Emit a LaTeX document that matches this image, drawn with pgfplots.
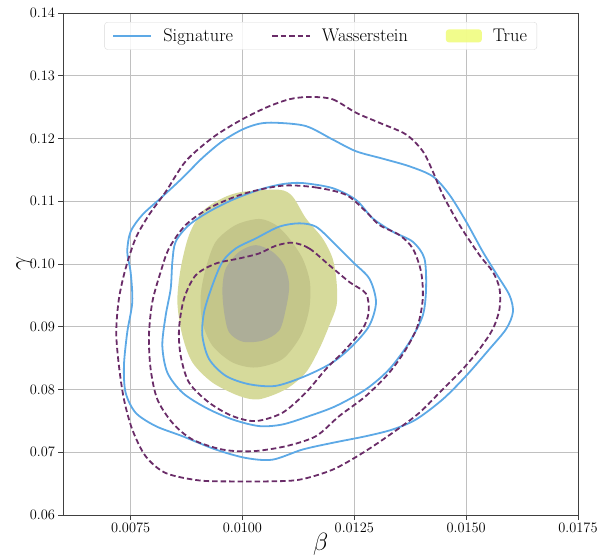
\documentclass[border=0pt]{standalone}
\usepackage{pgfplots}
\pgfplotsset{compat=1.18}
\usetikzlibrary{calc}

\definecolor{sigblue}{RGB}{93,169,230}
\definecolor{wasspurple}{RGB}{106,44,104}
\definecolor{trueA}{RGB}{214,218,155}
\definecolor{trueB}{RGB}{196,198,138}
\definecolor{trueC}{RGB}{173,174,152}
\definecolor{trueleg}{RGB}{240,252,120}
\definecolor{gridgray}{RGB}{192,192,192}

\pgfplotsset{
  linelegend/.style={legend image code/.code={\draw[##1] (0pt,0pt) -- (38pt,0pt);}},
  patchlegend/.style={legend image code/.code={\fill[##1] (0pt,-6.5pt) rectangle (36pt,6.5pt);}},
}

\begin{document}
\begin{tikzpicture}
\begin{axis}[
  scale only axis,
  width=514.5pt, height=502pt,
  xmin=0.006, xmax=0.0175,
  ymin=0.06, ymax=0.14,
  xtick={0.0075,0.01,0.0125,0.015,0.0175},
  ytick={0.06,0.07,0.08,0.09,0.10,0.11,0.12,0.13,0.14},
  scaled x ticks=false, scaled y ticks=false,
  x tick label style={/pgf/number format/.cd, fixed, fixed zerofill, precision=4},
  y tick label style={/pgf/number format/.cd, fixed, fixed zerofill, precision=2},
  tick label style={font=\fontsize{13.5}{16}\selectfont},
  tick pos=left, tick align=outside,
  major tick length=5pt,
  every tick/.style={black!75, line width=0.8pt},
  axis line style={black!75, line width=0.8pt},
  grid=major,
  grid style={gridgray, line width=0.9pt},
  xlabel={$\beta$}, ylabel={$\gamma$},
  label style={font=\fontsize{23}{26}\selectfont},
  xlabel style={yshift=6pt},
  ylabel style={yshift=-9pt},
  legend columns=3,
  legend style={at={(0.5,0.982)}, anchor=north, draw=black!15, rounded corners=3pt,
    fill=white, fill opacity=0.85, text opacity=1,
    font=\fontsize{18.3}{21}\selectfont, inner xsep=8pt, inner ysep=4.5pt,
    /tikz/every odd column/.append style={column sep=9pt},
    /tikz/every even column/.append style={column sep=36pt}},
]
\addlegendimage{sigblue, line width=1.8pt, linelegend}
\addlegendentry{Signature}
\addlegendimage{wasspurple, line width=1.8pt, dash pattern=on 5.5pt off 3pt, linelegend}
\addlegendentry{Wasserstein}
\addlegendimage{fill=trueleg, draw=none, patchlegend}
\addlegendentry{True}

% True density (filled levels)
\addplot[forget plot, smooth cycle, fill=trueA, draw=none] coordinates {
 (0.01,0.1115) (0.010821,0.11183) (0.011119,0.11076) (0.011418,0.10729)
 (0.011791,0.10408) (0.012015,0.10088) (0.012104,0.09714) (0.012104,0.0934)
 (0.01194,0.09019) (0.011716,0.08645) (0.011418,0.08271) (0.01097,0.08004)
 (0.010373,0.07844) (0.009925,0.07897) (0.009328,0.08111) (0.008881,0.08432)
 (0.008657,0.08859) (0.008545,0.09393) (0.008619,0.09927) (0.008806,0.10462)
 (0.009104,0.10835) (0.009552,0.11049)
};
\addplot[forget plot, smooth cycle, fill=trueB, draw=none] coordinates {
 (0.010373,0.10718) (0.010746,0.10622) (0.011045,0.10408) (0.011343,0.10088)
 (0.011507,0.09714) (0.011493,0.09286) (0.011306,0.08859) (0.010896,0.08485)
 (0.010299,0.08351) (0.009776,0.08432) (0.009328,0.08699) (0.009104,0.09073)
 (0.009067,0.095) (0.009179,0.09927) (0.009403,0.10355) (0.009851,0.10622)
};
\addplot[forget plot, smooth cycle, fill=trueC, draw=none] coordinates {
 (0.010299,0.10301) (0.010672,0.10194) (0.010933,0.09981) (0.011045,0.0966)
 (0.01097,0.09286) (0.010821,0.08939) (0.010448,0.08779) (0.01,0.08763)
 (0.009701,0.08912) (0.00959,0.09233) (0.009552,0.09607) (0.009627,0.09927)
 (0.009925,0.10194)
};

% Signature contours
\addplot[forget plot, smooth cycle, sigblue, line width=1.8pt] coordinates {
 (0.010746,0.12251) (0.011418,0.12198) (0.012015,0.11984) (0.012537,0.11797)
 (0.013134,0.11679) (0.013731,0.11557) (0.014254,0.11396) (0.014627,0.11103)
 (0.015,0.10675) (0.015373,0.10194) (0.015672,0.09847) (0.01597,0.095)
 (0.016045,0.09233) (0.015896,0.08966) (0.015522,0.08645) (0.015,0.08218)
 (0.014478,0.07844) (0.013881,0.07523) (0.013358,0.07363) (0.012761,0.07256)
 (0.012015,0.0715) (0.011343,0.07043) (0.010672,0.06882) (0.010075,0.06909)
 (0.009403,0.07043) (0.008657,0.07256) (0.00806,0.07417) (0.007612,0.0763)
 (0.007388,0.07951) (0.007351,0.08378) (0.007425,0.08912) (0.007537,0.09393)
 (0.0075,0.09874) (0.007425,0.10194) (0.0075,0.10515) (0.007761,0.10782)
 (0.008172,0.11049) (0.008657,0.1137) (0.009104,0.1169) (0.009552,0.11957)
 (0.01,0.12144) (0.010373,0.12235)
};
\addplot[forget plot, smooth cycle, sigblue, line width=1.8pt] coordinates {
 (0.011343,0.1129) (0.012015,0.11209) (0.012537,0.11022) (0.01291,0.10729)
 (0.013358,0.10515) (0.013806,0.10355) (0.014067,0.10088) (0.014104,0.09607)
 (0.01403,0.09179) (0.013731,0.08752) (0.013284,0.08325) (0.012761,0.08004)
 (0.01209,0.07737) (0.011493,0.07577) (0.010896,0.07443) (0.010373,0.07417)
 (0.009776,0.07523) (0.009179,0.0771) (0.008657,0.07951) (0.008321,0.08271)
 (0.008209,0.08699) (0.008284,0.09179) (0.008396,0.09607) (0.008433,0.10034)
 (0.008507,0.10355) (0.008806,0.10622) (0.009254,0.10835) (0.009776,0.11022)
 (0.010373,0.11183) (0.010896,0.11273)
};
\addplot[forget plot, smooth cycle, sigblue, line width=1.8pt] coordinates {
 (0.011269,0.10648) (0.011642,0.10595) (0.012015,0.10355) (0.012463,0.10034)
 (0.012836,0.09767) (0.012985,0.09393) (0.012836,0.09019) (0.012463,0.08699)
 (0.012015,0.08432) (0.011418,0.08218) (0.010746,0.08058) (0.010149,0.08084)
 (0.009627,0.08218) (0.009254,0.08485) (0.009104,0.08859) (0.009142,0.09233)
 (0.009328,0.0966) (0.009552,0.10034) (0.009851,0.10248) (0.010299,0.10408)
 (0.010821,0.10595)
};

% Wasserstein contours
\addplot[forget plot, smooth cycle, wasspurple, line width=1.8pt, dash pattern=on 5.5pt off 3pt] coordinates {
 (0.011493,0.12662) (0.012015,0.12625) (0.012537,0.12411) (0.01306,0.12251)
 (0.013657,0.12064) (0.01403,0.11797) (0.014254,0.11476) (0.014478,0.11103)
 (0.014851,0.10622) (0.015299,0.10141) (0.015597,0.09874) (0.015746,0.09607)
 (0.015746,0.09286) (0.015597,0.08966) (0.015299,0.08645) (0.014925,0.08325)
 (0.014478,0.08004) (0.013955,0.0763) (0.013358,0.0731) (0.012687,0.06989)
 (0.012015,0.06722) (0.011269,0.06562) (0.010522,0.06535) (0.009776,0.06535)
 (0.00903,0.06551) (0.008284,0.06669) (0.007836,0.06936) (0.007537,0.07363)
 (0.007351,0.07844) (0.007239,0.08378) (0.007179,0.08912) (0.007239,0.09447)
 (0.007388,0.09927) (0.007612,0.10408) (0.00791,0.10782) (0.008284,0.1115)
 (0.008731,0.11637) (0.009328,0.12011) (0.009925,0.12278) (0.010522,0.12491)
 (0.011045,0.12625)
};
\addplot[forget plot, smooth cycle, wasspurple, line width=1.8pt, dash pattern=on 5.5pt off 3pt] coordinates {
 (0.01097,0.11252) (0.011642,0.1122) (0.012313,0.11103) (0.012761,0.10835)
 (0.01306,0.10622) (0.013507,0.10462) (0.013806,0.10248) (0.013993,0.09874)
 (0.01403,0.09447) (0.013918,0.09019) (0.013657,0.08645) (0.013284,0.08271)
 (0.012761,0.07897) (0.012164,0.07577) (0.011642,0.07256) (0.01097,0.07096)
 (0.010224,0.07016) (0.009552,0.07043) (0.008881,0.07203) (0.008433,0.0747)
 (0.008097,0.07844) (0.007948,0.08325) (0.00791,0.08859) (0.007985,0.09393)
 (0.008172,0.09874) (0.008358,0.10248) (0.008731,0.10622) (0.009254,0.10889)
 (0.009851,0.11076) (0.010373,0.11183)
};
\addplot[forget plot, smooth cycle, wasspurple, line width=1.8pt, dash pattern=on 5.5pt off 3pt] coordinates {
 (0.011119,0.10339) (0.011493,0.10248) (0.01194,0.09981) (0.012388,0.09714)
 (0.012761,0.09527) (0.012821,0.09233) (0.012687,0.08966) (0.012313,0.08645)
 (0.011866,0.08325) (0.011418,0.07951) (0.010896,0.0763) (0.010299,0.07497)
 (0.009776,0.07577) (0.009254,0.07791) (0.008806,0.08111) (0.008619,0.08538)
 (0.008582,0.08966) (0.008694,0.09447) (0.008955,0.0982) (0.009403,0.10007)
 (0.009925,0.10088) (0.010373,0.10168) (0.010746,0.10291)
};

\coordinate (ll) at (rel axis cs:0,0);
\coordinate (ur) at (rel axis cs:1,1);
\end{axis}
\pgfresetboundingbox
\path[use as bounding box] ([shift={(-63.5pt,-43pt)}]ll) rectangle ([shift={(20pt,13pt)}]ur);
\end{tikzpicture}
\end{document}
